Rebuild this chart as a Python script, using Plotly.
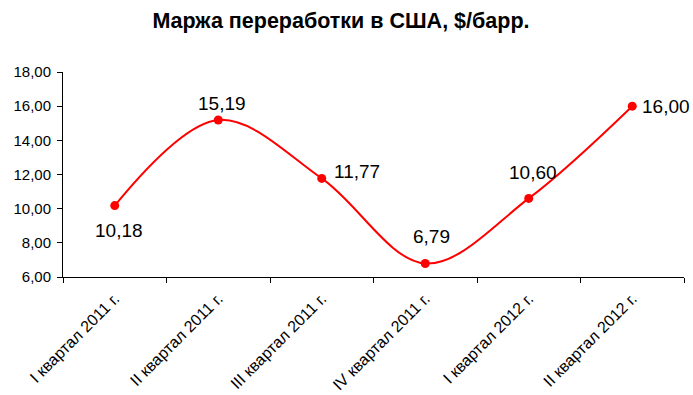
import plotly.graph_objects as go

categories = ["I квартал 2011 г.", "II квартал 2011 г.", "III квартал 2011 г.",
              "IV квартал 2011 г.", "I квартал 2012 г.", "II квартал 2012 г."]
values = [10.18, 15.19, 11.77, 6.79, 10.60, 16.00]
y_ticks = [6, 8, 10, 12, 14, 16, 18]

# label placement style: (xanchor, xshift, yshift) in pixels relative to the point
label_style = [("center", 4.5, -24.5),
               ("center", 3.5, 16.5),
               ("left", 10, 6.5),
               ("center", 6, 27.5),
               ("center", 4, 25.5),
               ("left", 8, -0.5)]

labels = [f"{v:.2f}".replace(".", ",") for v in values]

fig = go.Figure(go.Scatter(
    x=categories, y=values,
    mode="lines+markers",
    line=dict(color="#FF0000", width=2, shape="spline", smoothing=1),
    marker=dict(color="#FF0000", size=9),
    cliponaxis=False,
    hoverinfo="skip",
))

for c, v, t, (xa, xs, ys) in zip(categories, values, labels, label_style):
    fig.add_annotation(x=c, y=v, text=t, showarrow=False,
                       xanchor=xa, yanchor="middle", xshift=xs, yshift=ys,
                       font=dict(family="Liberation Sans, Arial", size=19, color="black"))

fig.update_layout(
    width=693, height=395,
    margin=dict(l=63, r=9, t=72, b=118, autoexpand=False),
    paper_bgcolor="white", plot_bgcolor="white",
    separators=", ",
    showlegend=False,
    title=dict(text="<b>Маржа переработки в США, $/барр.</b>", x=0.492, xref="container",
               xanchor="center", y=0.949, yanchor="middle",
               font=dict(family="Liberation Sans, Arial", size=21.5, color="black")),
    font=dict(family="Liberation Sans, Arial", color="black"),
)
fig.update_xaxes(
    type="category", range=[-0.5, 5.5], automargin=False,
    showline=True, linecolor="black", linewidth=1,
    ticks="outside", tickson="boundaries", ticklen=5, tickcolor="black",
    tickangle=-45, tickfont=dict(size=16), ticklabelstandoff=5,
    showgrid=False, zeroline=False,
)
fig.update_yaxes(
    range=[6, 18], tickvals=y_ticks, tickformat=".2f", automargin=False,
    showline=True, linecolor="black", linewidth=1,
    ticks="outside", ticklen=5, tickcolor="black",
    tickfont=dict(size=15), ticklabelstandoff=3,
    showgrid=False, zeroline=False,
)

fig.write_html("out.html", config={"displayModeBar": False},
               post_script="document.body.style.margin='0';")
